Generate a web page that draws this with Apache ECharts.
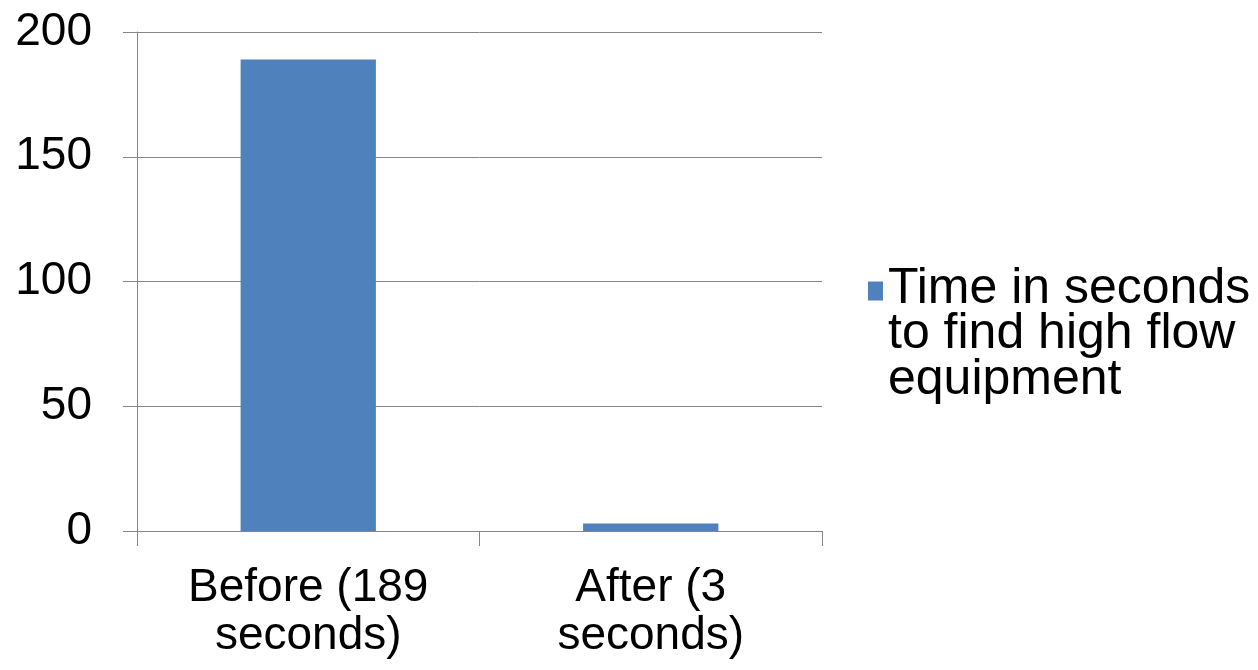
<!DOCTYPE html>
<html>
<head>
<meta charset="utf-8">
<script src="https://cdn.jsdelivr.net/npm/echarts@6/dist/echarts.min.js"></script>
<style>html,body{margin:0;padding:0;background:#fff;}#c{width:1258px;height:670px;}</style>
</head>
<body>
<div id="c"></div>
<script>
const categories = ['Before (189 seconds)', 'After (3 seconds)'];
const seriesName = 'Time in seconds to find high flow equipment';
const values = [189, 3];
const yTicks = [0, 50, 100, 150, 200];

const chart = echarts.init(document.getElementById('c'));
const font = '"Liberation Sans", Arial, sans-serif';
chart.setOption({
  animation: false,
  backgroundColor: '#ffffff',
  grid: { left: 137, right: 436, top: 32, bottom: 139, containLabel: false },
  legend: {
    show: true,
    orient: 'vertical',
    left: 868,
    top: 264,
    padding: 0,
    itemWidth: 15,
    itemHeight: 136,
    icon: 'path://M0,0L0.001,0M0,136L0.001,136M0,15L15,15L15,34L0,34Z',
    data: [seriesName],
    formatter: function () { return 'Time in seconds\nto find high flow\nequipment'; },
    textStyle: { fontFamily: font, fontSize: 50, color: '#000', lineHeight: 45.5 }
  },
  xAxis: {
    type: 'category',
    data: categories,
    axisLine: { lineStyle: { color: '#878787', width: 1 } },
    axisTick: { show: true, length: 15, lineStyle: { color: '#878787' } },
    axisLabel: {
      fontFamily: font, fontSize: 46, color: '#000', lineHeight: 48, margin: 33,
      formatter: function (v) { return v.replace(' seconds)', '\nseconds)'); }
    }
  },
  yAxis: {
    type: 'value',
    min: yTicks[0],
    max: yTicks[yTicks.length - 1],
    interval: 50,
    axisLine: { show: true, lineStyle: { color: '#878787', width: 1 } },
    axisTick: { show: true, length: 14, lineStyle: { color: '#878787' } },
    splitLine: { show: true, lineStyle: { color: '#878787', width: 1 } },
    axisLabel: { fontFamily: font, fontSize: 46, color: '#000', margin: 45 }
  },
  series: [{
    name: seriesName,
    type: 'bar',
    data: values,
    barWidth: '39.5%',
    itemStyle: { color: '#4F81BD' }
  }]
});
</script>
</body>
</html>
